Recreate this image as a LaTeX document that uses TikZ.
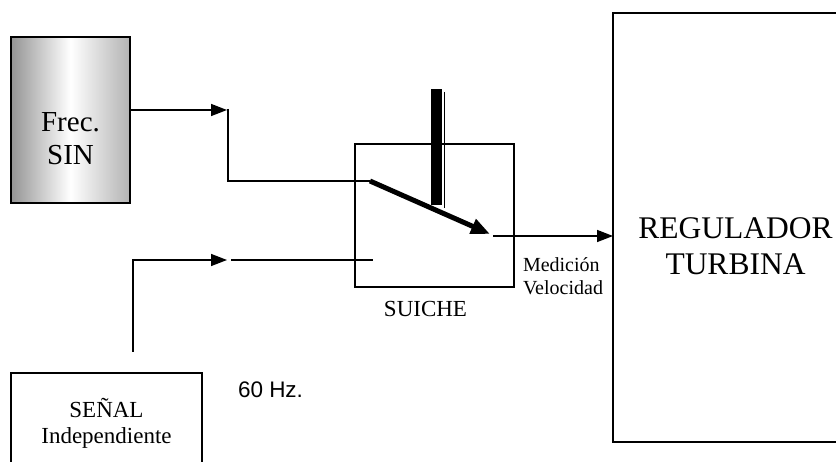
\documentclass[tikz,border=0pt]{standalone}
\usepackage{fontspec}
\setmainfont{Liberation Serif}
\newfontfamily\arialf{Liberation Sans}
\usetikzlibrary{arrows.meta}
\begin{document}
\begin{tikzpicture}[x=1pt,y=-1pt,
  box/.style={draw, line width=1.4pt, inner sep=0pt, outer sep=0pt},
  conn/.style={line width=1.5pt},
  arr/.style={conn, -{Triangle[length=16pt,width=12pt]}},
  lever/.style={line width=5pt, -{Triangle[length=19pt,width=15pt]}},
  txt/.style={inner sep=0pt, outer sep=0pt, anchor=base, align=center}]
\useasboundingbox (0,0) rectangle (836,462);
\clip (0,0) rectangle (836,462);
% boxes
\node[box, minimum width=119pt, minimum height=166pt,
      left color=black!42, right color=black!30, middle color=white] (frec) at (70.5,120) {};
\node[box, minimum width=159pt, minimum height=143pt] (sw) at (434.5,215.5) {};
\node[box, minimum width=287pt, minimum height=429pt] (reg) at (756.5,227.5) {};
\node[box, minimum width=191pt, minimum height=127pt] (sen) at (106.5,436.5) {};
% texts (base anchor = baseline of the last line)
\node[txt, font=\fontsize{29}{33}\selectfont] (tfrec) at (70.5,165) {Frec.\\SIN};
\node[txt, font=\fontsize{23}{26}\selectfont] (tsw) at (425.5,317) {SUICHE};
\node[txt, font=\fontsize{31.5}{36}\selectfont] (treg) at (735.5,275) {REGULADOR\\TURBINA};
\node[txt, font=\fontsize{23}{26}\selectfont] (tsen) at (106.5,443) {SEÑAL\\Independiente};
\node[txt, align=left, anchor=base west, font=\fontsize{20}{23}\selectfont] (tmed) at (523,295) {Medición\\Velocidad};
\node[txt, anchor=base west, font=\arialf\fontsize{22.5}{26}\selectfont] (thz) at (238,398) {60 Hz.};
% coordinates
\coordinate (tA) at (227,110);
\coordinate (vA) at (228,109);
\coordinate (vB) at (228,181);
\coordinate (pivot) at (370,181);
\coordinate (contact) at (490,234);
\coordinate (outS) at (493,236);
\coordinate (lA) at (133,352);
\coordinate (lB) at (133,260);
\coordinate (tB) at (227,260);
\coordinate (lC) at (231,260);
\coordinate (lD) at (373,260);
% connectors
\draw[arr] (frec.east |- tA) -- (tA);
\draw[conn] (vA) -- (vB) -- (pivot);
\draw[arr] (lA) -- (lB) -- (tB);
\draw[conn] (lC) -- (lD);
\draw[lever] (pivot) -- (contact);
\draw[arr] (outS) -- (reg.west |- outS);
% switch bar
\fill (431,89) rectangle (442,205);
\draw[line width=1pt] (444.5,92) -- (444.5,208);
\end{tikzpicture}
\end{document}
